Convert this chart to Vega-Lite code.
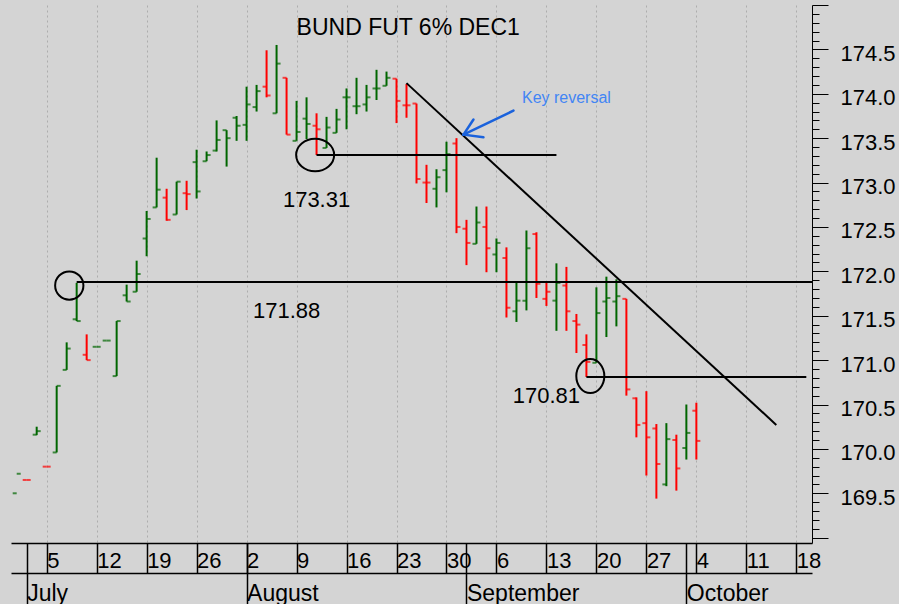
{
  "$schema": "https://vega.github.io/schema/vega-lite/v6.json",
  "width": 801,
  "height": 538,
  "autosize": {"type": "none"},
  "padding": {"left": 11, "top": 5, "right": 87, "bottom": 61},
  "background": "#d4d4d4",
  "config": {"view": {"stroke": null, "fill": "#d4d4d4"}, "font": "Liberation Sans"},
  "datasets": {
    "ohlc": [
      {"date": "2021-06-30", "open": 169.50, "high": null, "low": null, "close": 169.72, "dir": "up"},
      {"date": "2021-07-01", "open": 169.65, "high": 169.65, "low": 169.65, "close": 169.65, "dir": "down"},
      {"date": "2021-07-02", "open": 170.16, "high": 170.25, "low": 170.155, "close": 170.20, "dir": "up"},
      {"date": "2021-07-05", "open": 169.80, "high": 169.80, "low": 169.80, "close": 169.80, "dir": "down"},
      {"date": "2021-07-06", "open": 169.96, "high": 170.71, "low": 169.96, "close": 170.71, "dir": "up"},
      {"date": "2021-07-07", "open": 170.89, "high": 171.20, "low": 170.89, "close": 171.13, "dir": "up"},
      {"date": "2021-07-08", "open": 171.46, "high": 171.87, "low": 171.44, "close": 171.44, "dir": "up"},
      {"date": "2021-07-09", "open": 171.06, "high": 171.29, "low": 171.00, "close": 171.00, "dir": "down"},
      {"date": "2021-07-12", "open": 171.15, "high": 171.15, "low": 171.15, "close": 171.15, "dir": "up"},
      {"date": "2021-07-13", "open": 171.22, "high": 171.22, "low": 171.22, "close": 171.22, "dir": "up"},
      {"date": "2021-07-14", "open": 170.82, "high": 171.44, "low": 170.82, "close": 171.44, "dir": "up"},
      {"date": "2021-07-15", "open": 171.73, "high": 171.85, "low": 171.66, "close": 171.66, "dir": "up"},
      {"date": "2021-07-16", "open": 171.77, "high": 172.12, "low": 171.77, "close": 171.97, "dir": "up"},
      {"date": "2021-07-19", "open": 172.37, "high": 172.68, "low": 172.17, "close": 172.59, "dir": "up"},
      {"date": "2021-07-20", "open": 172.72, "high": 173.28, "low": 172.72, "close": 172.92, "dir": "up"},
      {"date": "2021-07-21", "open": 172.83, "high": 172.93, "low": 172.57, "close": 172.58, "dir": "down"},
      {"date": "2021-07-22", "open": 172.64, "high": 173.01, "low": 172.64, "close": 173.01, "dir": "up"},
      {"date": "2021-07-23", "open": 172.88, "high": 173.02, "low": 172.69, "close": 172.87, "dir": "down"},
      {"date": "2021-07-26", "open": 173.23, "high": 173.37, "low": 172.82, "close": 172.90, "dir": "up"},
      {"date": "2021-07-27", "open": 173.24, "high": 173.35, "low": 173.24, "close": 173.31, "dir": "up"},
      {"date": "2021-07-28", "open": 173.36, "high": 173.70, "low": 173.35, "close": 173.48, "dir": "up"},
      {"date": "2021-07-29", "open": 173.59, "high": 173.59, "low": 173.18, "close": 173.50, "dir": "up"},
      {"date": "2021-07-30", "open": 173.73, "high": 173.75, "low": 173.47, "close": 173.64, "dir": "up"},
      {"date": "2021-08-02", "open": 173.65, "high": 174.08, "low": 173.47, "close": 173.88, "dir": "up"},
      {"date": "2021-08-03", "open": 173.85, "high": 174.10, "low": 173.80, "close": 174.03, "dir": "up"},
      {"date": "2021-08-04", "open": 174.08, "high": 174.49, "low": 173.96, "close": 173.98, "dir": "down"},
      {"date": "2021-08-05", "open": 173.78, "high": 174.55, "low": 173.78, "close": 174.34, "dir": "up"},
      {"date": "2021-08-06", "open": 174.18, "high": 174.18, "low": 173.54, "close": 173.54, "dir": "down"},
      {"date": "2021-08-09", "open": 173.47, "high": 173.92, "low": 173.47, "close": 173.57, "dir": "up"},
      {"date": "2021-08-10", "open": 173.72, "high": 173.96, "low": 173.49, "close": 173.66, "dir": "up"},
      {"date": "2021-08-11", "open": 173.64, "high": 173.78, "low": 173.31, "close": 173.60, "dir": "down"},
      {"date": "2021-08-12", "open": 173.39, "high": 173.74, "low": 173.39, "close": 173.62, "dir": "up"},
      {"date": "2021-08-13", "open": 173.56, "high": 173.83, "low": 173.56, "close": 173.71, "dir": "up"},
      {"date": "2021-08-16", "open": 173.96, "high": 174.06, "low": 173.60, "close": 173.96, "dir": "up"},
      {"date": "2021-08-17", "open": 173.86, "high": 174.18, "low": 173.77, "close": 173.86, "dir": "up"},
      {"date": "2021-08-18", "open": 173.88, "high": 174.10, "low": 173.80, "close": 173.96, "dir": "up"},
      {"date": "2021-08-19", "open": 174.06, "high": 174.27, "low": 173.93, "close": 174.06, "dir": "up"},
      {"date": "2021-08-20", "open": 174.09, "high": 174.25, "low": 174.09, "close": 174.18, "dir": "up"},
      {"date": "2021-08-23", "open": 174.17, "high": 174.17, "low": 173.67, "close": 173.92, "dir": "down"},
      {"date": "2021-08-24", "open": 173.87, "high": 174.11, "low": 173.73, "close": 173.87, "dir": "down"},
      {"date": "2021-08-25", "open": 173.89, "high": 173.89, "low": 172.99, "close": 173.04, "dir": "down"},
      {"date": "2021-08-26", "open": 173.00, "high": 173.20, "low": 172.77, "close": 173.00, "dir": "down"},
      {"date": "2021-08-27", "open": 172.93, "high": 173.15, "low": 172.72, "close": 173.06, "dir": "up"},
      {"date": "2021-08-30", "open": 173.14, "high": 173.46, "low": 172.89, "close": 173.32, "dir": "up"},
      {"date": "2021-08-31", "open": 173.44, "high": 173.50, "low": 172.43, "close": 172.50, "dir": "down"},
      {"date": "2021-09-01", "open": 172.48, "high": 172.58, "low": 172.07, "close": 172.32, "dir": "down"},
      {"date": "2021-09-02", "open": 172.31, "high": 172.73, "low": 172.31, "close": 172.55, "dir": "up"},
      {"date": "2021-09-03", "open": 172.50, "high": 172.73, "low": 171.99, "close": 172.26, "dir": "down"},
      {"date": "2021-09-06", "open": 172.19, "high": 172.37, "low": 171.99, "close": 172.32, "dir": "up"},
      {"date": "2021-09-07", "open": 172.15, "high": 172.27, "low": 171.48, "close": 171.59, "dir": "down"},
      {"date": "2021-09-08", "open": 171.55, "high": 171.87, "low": 171.43, "close": 171.67, "dir": "up"},
      {"date": "2021-09-09", "open": 171.67, "high": 172.46, "low": 171.56, "close": 172.26, "dir": "up"},
      {"date": "2021-09-10", "open": 172.42, "high": 172.44, "low": 171.70, "close": 171.86, "dir": "down"},
      {"date": "2021-09-13", "open": 171.69, "high": 171.88, "low": 171.61, "close": 171.77, "dir": "down"},
      {"date": "2021-09-14", "open": 171.67, "high": 172.09, "low": 171.33, "close": 171.87, "dir": "up"},
      {"date": "2021-09-15", "open": 171.84, "high": 172.05, "low": 171.33, "close": 171.55, "dir": "down"},
      {"date": "2021-09-16", "open": 171.44, "high": 171.52, "low": 171.08, "close": 171.40, "dir": "down"},
      {"date": "2021-09-17", "open": 171.17, "high": 171.29, "low": 170.81, "close": 170.98, "dir": "down"},
      {"date": "2021-09-20", "open": 170.97, "high": 171.82, "low": 170.97, "close": 171.53, "dir": "up"},
      {"date": "2021-09-21", "open": 171.66, "high": 171.94, "low": 171.26, "close": 171.70, "dir": "up"},
      {"date": "2021-09-22", "open": 171.66, "high": 171.91, "low": 171.38, "close": 171.72, "dir": "up"},
      {"date": "2021-09-23", "open": 171.69, "high": 171.69, "low": 170.60, "close": 170.67, "dir": "down"},
      {"date": "2021-09-24", "open": 170.57, "high": 170.58, "low": 170.13, "close": 170.27, "dir": "down"},
      {"date": "2021-09-27", "open": 170.29, "high": 170.65, "low": 169.70, "close": 170.13, "dir": "down"},
      {"date": "2021-09-28", "open": 170.23, "high": 170.28, "low": 169.44, "close": 169.83, "dir": "down"},
      {"date": "2021-09-29", "open": 169.60, "high": 170.29, "low": 169.58, "close": 170.11, "dir": "up"},
      {"date": "2021-09-30", "open": 170.10, "high": 170.16, "low": 169.53, "close": 169.78, "dir": "down"},
      {"date": "2021-10-01", "open": 170.01, "high": 170.50, "low": 169.88, "close": 170.18, "dir": "up"},
      {"date": "2021-10-04", "open": 170.43, "high": 170.52, "low": 169.88, "close": 170.09, "dir": "down"}
    ]
  },
  "resolve": {"axis": {"x": "independent", "y": "independent"}},
  "encoding": {
    "x": {"field": "date", "type": "ordinal", "axis": null,
      "scale": {"type": "point", "padding": 0.57, "domain": ["2021-06-30","2021-07-01","2021-07-02","2021-07-05","2021-07-06","2021-07-07","2021-07-08","2021-07-09","2021-07-12","2021-07-13","2021-07-14","2021-07-15","2021-07-16","2021-07-19","2021-07-20","2021-07-21","2021-07-22","2021-07-23","2021-07-26","2021-07-27","2021-07-28","2021-07-29","2021-07-30","2021-08-02","2021-08-03","2021-08-04","2021-08-05","2021-08-06","2021-08-09","2021-08-10","2021-08-11","2021-08-12","2021-08-13","2021-08-16","2021-08-17","2021-08-18","2021-08-19","2021-08-20","2021-08-23","2021-08-24","2021-08-25","2021-08-26","2021-08-27","2021-08-30","2021-08-31","2021-09-01","2021-09-02","2021-09-03","2021-09-06","2021-09-07","2021-09-08","2021-09-09","2021-09-10","2021-09-13","2021-09-14","2021-09-15","2021-09-16","2021-09-17","2021-09-20","2021-09-21","2021-09-22","2021-09-23","2021-09-24","2021-09-27","2021-09-28","2021-09-29","2021-09-30","2021-10-01","2021-10-04","2021-10-05","2021-10-06","2021-10-07","2021-10-08","2021-10-11","2021-10-12","2021-10-13","2021-10-14","2021-10-15","2021-10-18","2021-10-19"]}},
    "y": {"field": "price", "type": "quantitative", "axis": null, "scale": {"domain": [168.94, 175.0], "nice": false, "zero": false}}
  },
  "layer": [
    {
      "data": {"name": "ohlc"},
      "mark": {"type": "rule", "strokeWidth": 2},
      "encoding": {
        "x": {"field": "date", "type": "ordinal",
          "scale": {"type": "point", "padding": 0.57, "domain": ["2021-06-30","2021-07-01","2021-07-02","2021-07-05","2021-07-06","2021-07-07","2021-07-08","2021-07-09","2021-07-12","2021-07-13","2021-07-14","2021-07-15","2021-07-16","2021-07-19","2021-07-20","2021-07-21","2021-07-22","2021-07-23","2021-07-26","2021-07-27","2021-07-28","2021-07-29","2021-07-30","2021-08-02","2021-08-03","2021-08-04","2021-08-05","2021-08-06","2021-08-09","2021-08-10","2021-08-11","2021-08-12","2021-08-13","2021-08-16","2021-08-17","2021-08-18","2021-08-19","2021-08-20","2021-08-23","2021-08-24","2021-08-25","2021-08-26","2021-08-27","2021-08-30","2021-08-31","2021-09-01","2021-09-02","2021-09-03","2021-09-06","2021-09-07","2021-09-08","2021-09-09","2021-09-10","2021-09-13","2021-09-14","2021-09-15","2021-09-16","2021-09-17","2021-09-20","2021-09-21","2021-09-22","2021-09-23","2021-09-24","2021-09-27","2021-09-28","2021-09-29","2021-09-30","2021-10-01","2021-10-04","2021-10-05","2021-10-06","2021-10-07","2021-10-08","2021-10-11","2021-10-12","2021-10-13","2021-10-14","2021-10-15","2021-10-18","2021-10-19"]},
          "axis": {"orient": "bottom", "title": null,
            "values": ["2021-07-05","2021-07-12","2021-07-19","2021-07-26","2021-08-02","2021-08-09","2021-08-16","2021-08-23","2021-08-30","2021-09-06","2021-09-13","2021-09-20","2021-09-27","2021-10-04","2021-10-11","2021-10-18"],
            "labelExpr": "'' + toNumber(slice(datum.value, 8))",
            "domain": true, "domainColor": "black", "domainWidth": 1.5,
            "ticks": true, "tickSize": 30, "tickColor": "black", "tickWidth": 1.5,
            "labelAlign": "left", "labelBaseline": "top", "labelPadding": -23, "labelDx": 3, "labelAngle": 0,
            "labelFontSize": 22, "labelFont": "Liberation Sans", "labelColor": "black",
            "labelOverlap": false, "labelBound": false, "labelFlush": false,
            "grid": true, "gridColor": "#adadad", "gridDash": [2, 3], "gridWidth": 1}},
        "y": {"field": "low", "type": "quantitative", "scale": {"domain": [168.94, 175.0], "nice": false, "zero": false},
          "axis": {"orient": "right", "title": null,
            "values": [169,169.1,169.2,169.3,169.4,169.5,169.6,169.7,169.8,169.9,170,170.1,170.2,170.3,170.4,170.5,170.6,170.7,170.8,170.9,171,171.1,171.2,171.3,171.4,171.5,171.6,171.7,171.8,171.9,172,172.1,172.2,172.3,172.4,172.5,172.6,172.7,172.8,172.9,173,173.1,173.2,173.3,173.4,173.5,173.6,173.7,173.8,173.9,174,174.1,174.2,174.3,174.4,174.5,174.6,174.7,174.8,174.9,175],
            "labelExpr": "(abs(datum.value*2 - round(datum.value*2)) < 0.001 && datum.value > 169.2 && datum.value < 174.8) ? format(datum.value, '.1f') : ''",
            "tickSize": {"condition": {"test": "abs(datum.value*2 - round(datum.value*2)) < 0.001", "value": 16}, "value": 7},
            "tickColor": "black", "tickWidth": 1, "domainColor": "black", "domainWidth": 1,
            "labelFontSize": 22, "labelFont": "Liberation Sans", "labelColor": "black", "labelPadding": 12, "labelOffset": 4,
            "labelOverlap": false, "labelBound": false, "labelFlush": false, "grid": false}},
        "y2": {"field": "high"},
        "color": {"field": "dir", "type": "nominal", "scale": {"domain": ["up", "down"], "range": ["#006600", "#ff0000"]}, "legend": null}
      }
    },
    {
      "data": {"name": "ohlc"},
      "mark": {"type": "tick", "orient": "horizontal", "size": 4, "thickness": 2, "xOffset": -2},
      "encoding": {
        "x": {"field": "date", "type": "ordinal",
          "scale": {"type": "point", "padding": 0.57, "domain": ["2021-06-30","2021-07-01","2021-07-02","2021-07-05","2021-07-06","2021-07-07","2021-07-08","2021-07-09","2021-07-12","2021-07-13","2021-07-14","2021-07-15","2021-07-16","2021-07-19","2021-07-20","2021-07-21","2021-07-22","2021-07-23","2021-07-26","2021-07-27","2021-07-28","2021-07-29","2021-07-30","2021-08-02","2021-08-03","2021-08-04","2021-08-05","2021-08-06","2021-08-09","2021-08-10","2021-08-11","2021-08-12","2021-08-13","2021-08-16","2021-08-17","2021-08-18","2021-08-19","2021-08-20","2021-08-23","2021-08-24","2021-08-25","2021-08-26","2021-08-27","2021-08-30","2021-08-31","2021-09-01","2021-09-02","2021-09-03","2021-09-06","2021-09-07","2021-09-08","2021-09-09","2021-09-10","2021-09-13","2021-09-14","2021-09-15","2021-09-16","2021-09-17","2021-09-20","2021-09-21","2021-09-22","2021-09-23","2021-09-24","2021-09-27","2021-09-28","2021-09-29","2021-09-30","2021-10-01","2021-10-04","2021-10-05","2021-10-06","2021-10-07","2021-10-08","2021-10-11","2021-10-12","2021-10-13","2021-10-14","2021-10-15","2021-10-18","2021-10-19"]},
          "axis": {"orient": "bottom", "title": null,
            "values": ["2021-07-01","2021-08-02","2021-09-01","2021-10-01"],
            "labelExpr": "utcFormat(toDate(datum.value), '%B')",
            "domain": false, "ticks": true, "tickSize": 61, "tickColor": "black", "tickWidth": 1.5,
            "labelAlign": "left", "labelBaseline": "top", "labelPadding": -22, "labelDx": 3, "labelAngle": 0,
            "labelFontSize": 23, "labelFont": "Liberation Sans", "labelColor": "black",
            "labelOverlap": false, "labelBound": false, "labelFlush": false, "grid": false}},
        "y": {"field": "open", "type": "quantitative", "scale": {"domain": [168.94, 175.0], "nice": false, "zero": false}, "axis": null},
        "color": {"field": "dir", "type": "nominal", "scale": {"domain": ["up", "down"], "range": ["#006600", "#ff0000"]}, "legend": null}
      }
    },
    {
      "data": {"name": "ohlc"},
      "mark": {"type": "tick", "orient": "horizontal", "size": 4, "thickness": 2, "xOffset": 2},
      "encoding": {
        "x": {"field": "date", "type": "ordinal",
          "scale": {"type": "point", "padding": 0.57, "domain": ["2021-06-30","2021-07-01","2021-07-02","2021-07-05","2021-07-06","2021-07-07","2021-07-08","2021-07-09","2021-07-12","2021-07-13","2021-07-14","2021-07-15","2021-07-16","2021-07-19","2021-07-20","2021-07-21","2021-07-22","2021-07-23","2021-07-26","2021-07-27","2021-07-28","2021-07-29","2021-07-30","2021-08-02","2021-08-03","2021-08-04","2021-08-05","2021-08-06","2021-08-09","2021-08-10","2021-08-11","2021-08-12","2021-08-13","2021-08-16","2021-08-17","2021-08-18","2021-08-19","2021-08-20","2021-08-23","2021-08-24","2021-08-25","2021-08-26","2021-08-27","2021-08-30","2021-08-31","2021-09-01","2021-09-02","2021-09-03","2021-09-06","2021-09-07","2021-09-08","2021-09-09","2021-09-10","2021-09-13","2021-09-14","2021-09-15","2021-09-16","2021-09-17","2021-09-20","2021-09-21","2021-09-22","2021-09-23","2021-09-24","2021-09-27","2021-09-28","2021-09-29","2021-09-30","2021-10-01","2021-10-04","2021-10-05","2021-10-06","2021-10-07","2021-10-08","2021-10-11","2021-10-12","2021-10-13","2021-10-14","2021-10-15","2021-10-18","2021-10-19"]},
          "axis": {"orient": "bottom", "title": null, "offset": 30, "values": [],
            "domain": true, "domainColor": "black", "domainWidth": 1.5, "ticks": false, "labels": false, "grid": false}},
        "y": {"field": "close", "type": "quantitative", "scale": {"domain": [168.94, 175.0], "nice": false, "zero": false}, "axis": null},
        "color": {"field": "dir", "type": "nominal", "scale": {"domain": ["up", "down"], "range": ["#006600", "#ff0000"]}, "legend": null}
      }
    },
    {
      "data": {"values": [
        {"date": "2021-08-11", "end": "2021-09-14", "price": 173.31},
        {"date": "2021-09-17", "end": "2021-10-19", "price": 170.81}
      ]},
      "mark": {"type": "rule", "color": "black", "strokeWidth": 2},
      "encoding": {"x2": {"field": "end"}}
    },
    {
      "data": {"values": [{"date": "2021-07-08", "price": 171.88}]},
      "mark": {"type": "rule", "color": "black", "strokeWidth": 2},
      "encoding": {"x2": {"value": "width"}}
    },
    {
      "data": {"values": [{"date": "2021-08-24", "end": "2021-10-14", "price": 174.12, "price2": 170.27}]},
      "mark": {"type": "rule", "color": "black", "strokeWidth": 2},
      "encoding": {"x2": {"field": "end"}, "y2": {"field": "price2"}}
    },
    {
      "data": {"values": [{"date": "2021-07-07", "price": 171.84}]},
      "mark": {"type": "point", "shape": "circle", "size": 800, "filled": false, "stroke": "black", "strokeWidth": 2, "opacity": 1, "xOffset": 2.6},
      "encoding": {}
    },
    {
      "data": {"values": [{"date": "2021-08-11", "price": 173.31}]},
      "mark": {"type": "point", "shape": "M-1,0A1,0.853,0,1,0,1,0A1,0.853,0,1,0,-1,0Z", "size": 1444, "filled": false, "stroke": "black", "strokeWidth": 2, "opacity": 1, "xOffset": -1.4},
      "encoding": {}
    },
    {
      "data": {"values": [{"date": "2021-09-17", "price": 170.82}]},
      "mark": {"type": "point", "shape": "M-0.824,0A0.824,1,0,1,0,0.824,0A0.824,1,0,1,0,-0.824,0Z", "size": 1156, "filled": false, "stroke": "black", "strokeWidth": 2, "opacity": 1, "xOffset": 3.9},
      "encoding": {}
    },
    {
      "data": {"values": [
        {"date": "2021-08-11", "price": 172.72, "label": "173.31"},
        {"date": "2021-08-06", "price": 171.48, "label": "171.88"},
        {"date": "2021-09-13", "price": 170.52, "label": "170.81"}
      ]},
      "mark": {"type": "text", "align": "center", "baseline": "alphabetic", "fontSize": 22, "font": "Liberation Sans", "color": "black"},
      "encoding": {"text": {"field": "label"}}
    },
    {
      "data": {"values": [{"date": "2021-08-24", "price": 174.665, "label": "BUND FUT 6% DEC1"}]},
      "mark": {"type": "text", "align": "center", "baseline": "alphabetic", "fontSize": 23, "font": "Liberation Sans", "color": "black", "dx": 1.7},
      "encoding": {"text": {"field": "label"}}
    },
    {
      "data": {"values": [{"date": "2021-09-15", "price": 173.90, "label": "Key reversal"}]},
      "mark": {"type": "text", "align": "center", "baseline": "alphabetic", "fontSize": 16, "font": "Liberation Sans", "color": "#4285f4"},
      "encoding": {"text": {"field": "label"}}
    },
    {
      "data": {"values": [
        {"date": "2021-09-01", "end": "2021-09-08", "price": 173.54, "price2": 173.81},
        {"date": "2021-09-01", "end": "2021-09-02", "price": 173.54, "price2": 173.71},
        {"date": "2021-09-01", "end": "2021-09-03", "price": 173.54, "price2": 173.51}
      ]},
      "mark": {"type": "rule", "color": "#1a62dc", "strokeWidth": 2.5, "strokeCap": "round", "xOffset": -3, "x2Offset": -3},
      "encoding": {"x2": {"field": "end"}, "y2": {"field": "price2"}}
    }
  ]
}
